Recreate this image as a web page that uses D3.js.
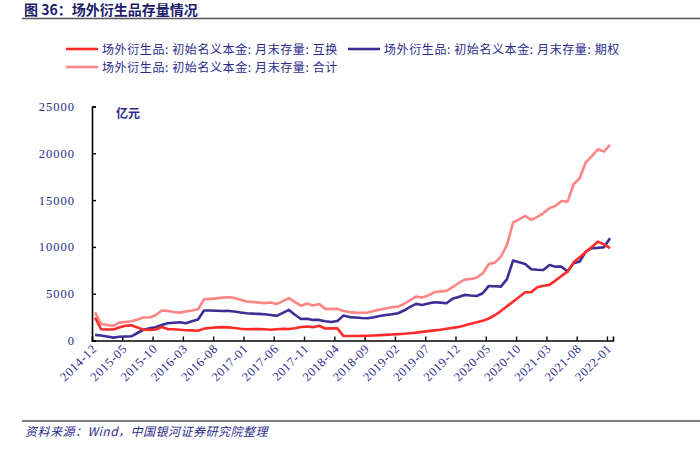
<!DOCTYPE html>
<html><head><meta charset="utf-8">
<script src="https://cdn.jsdelivr.net/npm/d3@7"></script>
<style>
html,body{margin:0;padding:0;background:#fff;}
svg{display:block;}
</style></head>
<body>
<svg id="chart" width="700" height="450"></svg>
<script>
// ---- data (monthly, 2014-12 .. 2022-01), unit: 亿元 ----
const startMonth = "2014-12";
const monthCount = 86;
const swapValues = [
 2450,1200,1180,1180,1400,1580,1620,1400,1150,1130,
 1180,1450,1220,1200,1150,1100,1080,1040,1270,1330,
 1400,1430,1400,1340,1260,1200,1230,1210,1200,1150,
 1200,1250,1220,1300,1450,1490,1420,1580,1280,1300,
 1300,490,480,480,490,510,540,570,600,640,
 680,720,780,840,920,1000,1080,1150,1250,1350,
 1450,1600,1800,1950,2100,2350,2700,3150,3650,4150,
 4650,5150,5150,5700,5850,5940,6400,6900,7360,8350,
 8900,9450,10000,10560,10280,9860];
const optionValues = [
 600,530,420,310,400,420,450,800,1150,1300,
 1420,1650,1850,1900,1950,1850,2050,2250,3200,3200,
 3180,3150,3160,3100,3000,2910,2870,2840,2800,2720,
 2630,2950,3270,2750,2300,2330,2200,2200,2050,1980,
 2080,2660,2500,2450,2400,2380,2480,2620,2730,2800,
 2910,3200,3600,3910,3800,3950,4090,4050,3980,4450,
 4650,4870,4800,4760,5050,5830,5800,5760,6550,8540,
 8350,8180,7610,7560,7540,8070,7890,7890,7360,8250,
 8430,9500,9860,9900,9960,10930];
const totalValues = [
 3000,1770,1650,1560,1910,1980,2050,2250,2450,2450,
 2700,3200,3160,3050,2980,3100,3200,3340,4410,4450,
 4500,4580,4620,4550,4350,4160,4120,4060,3990,4060,
 3900,4200,4520,4100,3720,3950,3730,3900,3380,3380,
 3380,3150,3050,2980,2970,2980,3150,3300,3420,3550,
 3620,3900,4300,4690,4600,4800,5150,5250,5300,5700,
 6120,6500,6580,6700,7190,8180,8320,8960,10210,12590,
 12950,13310,12880,13200,13590,14130,14380,14910,14840,16690,
 17330,19040,19700,20430,20180,20890];
const xTickLabels = ["2014-12","2015-05","2015-10","2016-03","2016-08","2017-01","2017-06","2017-11","2018-04","2018-09","2019-02","2019-07","2019-12","2020-05","2020-10","2021-03","2021-08","2022-01"];
const yTickValues = [0,5000,10000,15000,20000,25000];
const seriesNames = ["场外衍生品: 初始名义本金: 月末存量: 互换","场外衍生品: 初始名义本金: 月末存量: 期权","场外衍生品: 初始名义本金: 月末存量: 合计"];
const seriesColors = ["#ff2a2a","#3b2f96","#ff8585"];

// ---- drawing ----
const svg = d3.select("#chart");
const navy = "#2a2a8c";
const serif = "'Liberation Serif','Times New Roman',serif";
const cjk = "'Noto Sans CJK SC','Noto Sans',sans-serif";

const plotL = 92, plotR = 613, plotT = 106.5, plotB = 340.5;
const x = d3.scaleLinear().domain([0, monthCount]).range([plotL, plotR]);
const y = d3.scaleLinear().domain([0, 25000]).range([plotB, plotT]);

// title
svg.append("text").attr("x", 24).attr("y", 15)
  .attr("font-family", cjk).attr("font-size", 14).attr("font-weight", "bold")
  .attr("fill", "#1c1c6a").text("图 36：场外衍生品存量情况");
svg.append("line").attr("x1", 22).attr("x2", 700).attr("y1", 18.5).attr("y2", 18.5)
  .attr("stroke", "#555").attr("stroke-width", 1.3);

// legend
const legendPos = [[66, 49], [348, 49], [66, 67]];
seriesNames.forEach((n, i) => {
  const [lx, ly] = legendPos[i];
  svg.append("line").attr("x1", lx).attr("x2", lx + 32).attr("y1", ly).attr("y2", ly)
    .attr("stroke", seriesColors[i]).attr("stroke-width", 2.6);
  svg.append("text").attr("x", lx + 36).attr("y", ly + 4.5)
    .attr("font-family", cjk).attr("font-size", 12).attr("fill", navy)
    .attr("letter-spacing", 0.6).text(n);
});

// unit label
svg.append("text").attr("x", 116).attr("y", 118)
  .attr("font-family", cjk).attr("font-size", 12).attr("font-weight", "bold")
  .attr("fill", navy).text("亿元");

// y axis
const yAxis = d3.axisLeft(y).tickValues(yTickValues).tickSize(-4).tickPadding(17)
  .tickFormat(d3.format("d"));
const gy = svg.append("g").attr("transform", `translate(${plotL},0)`).call(yAxis);
gy.select(".domain").attr("stroke", "#000").attr("stroke-width", 1.6);
gy.selectAll(".tick line").attr("stroke", "#000").attr("stroke-width", 1.4);
gy.selectAll(".tick text").attr("font-family", serif).attr("font-size", 12.5)
  .attr("fill", navy).attr("letter-spacing", 1);

// x axis
const tickIdx = xTickLabels.map((_, i) => i * 5);
const xAxis = d3.axisBottom(x).tickValues(tickIdx).tickSize(-4)
  .tickFormat((d, i) => xTickLabels[i]);
const gx = svg.append("g").attr("transform", `translate(0,${plotB})`).call(xAxis);
gx.select(".domain").attr("stroke", "#000").attr("stroke-width", 1.6);
gx.selectAll(".tick line").attr("stroke", "#000").attr("stroke-width", 1.4);
gx.selectAll(".tick text")
  .attr("font-family", serif).attr("font-size", 12.5).attr("fill", navy)
  .attr("letter-spacing", 0.6)
  .attr("text-anchor", "end")
  .attr("dy", null).attr("y", 0)
  .attr("transform", "translate(5,9) rotate(-45)");

// lines
const seriesData = [swapValues, optionValues, totalValues];
const line = d3.line().x((d, i) => x(i + 0.5)).y(d => y(d));
[2, 1, 0].forEach(s => {
  svg.append("path").datum(seriesData[s])
    .attr("d", line).attr("fill", "none")
    .attr("stroke", seriesColors[s]).attr("stroke-width", 2.6)
    .attr("stroke-linejoin", "round");
});

// footer
svg.append("line").attr("x1", 22).attr("x2", 700).attr("y1", 421).attr("y2", 421)
  .attr("stroke", "#555").attr("stroke-width", 1.3);
svg.append("text").attr("x", 25).attr("y", 436)
  .attr("font-family", cjk).attr("font-size", 12).attr("font-style", "italic")
  .attr("fill", navy).attr("letter-spacing", 0.5)
  .text("资料来源：Wind，中国银河证券研究院整理");
</script>
</body></html>
